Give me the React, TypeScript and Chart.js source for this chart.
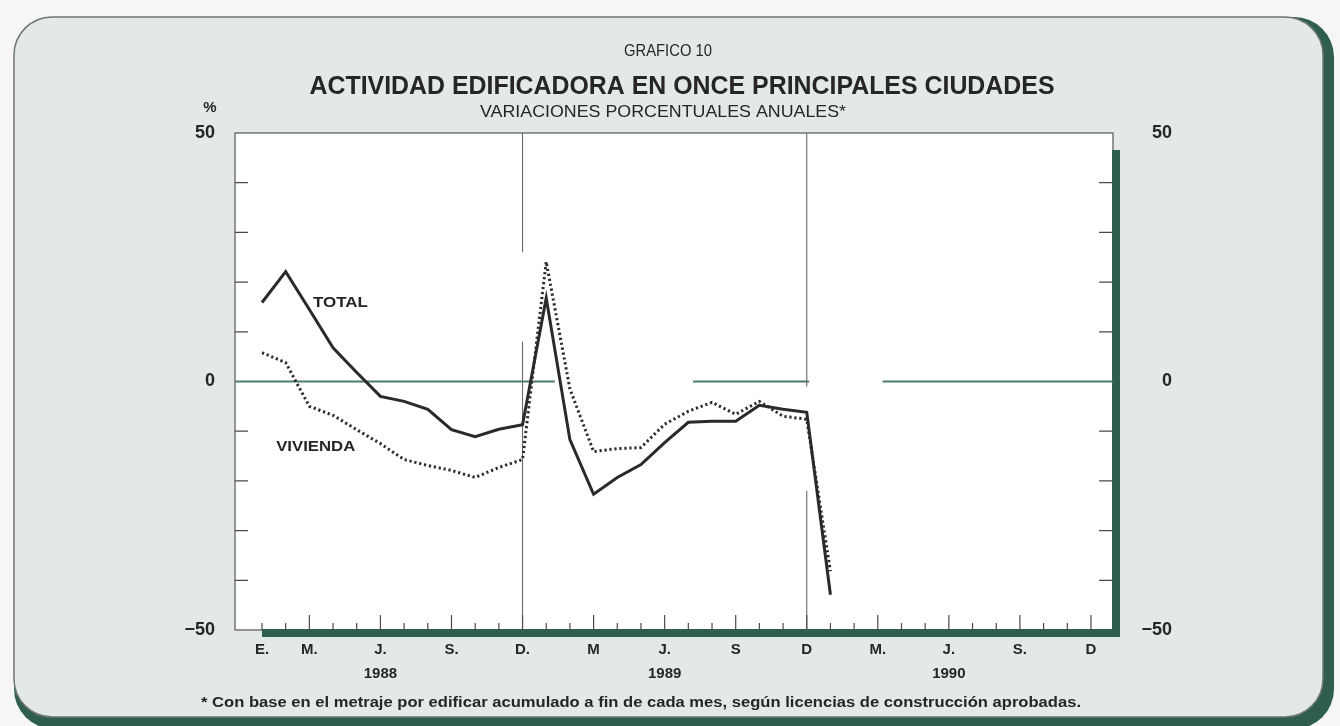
import React, { useEffect, useRef } from 'react';
import { Chart, registerables } from 'chart.js';

Chart.register(...registerables);

// ---------- DATA ----------
// months index 0 = Jan 1988 ... 35 = Dec 1990
const MONTH_TICK_LABELS: (string | string[])[] = [
  'E.', '', 'M.', '', '', ['J.', '1988'], '', '', 'S.', '', '', 'D.',
  '', '', 'M', '', '', ['J.', '1989'], '', '', 'S', '', '', 'D',
  '', '', 'M.', '', '', ['J.', '1990'], '', '', 'S.', '', '', 'D',
];
// observations: Jan 1988 ... Jan 1990 (25 months)
const TOTAL_VALUES = [
  15.9, 22.1, 14.5, 6.8, 1.8, -3.0, -4.0, -5.6, -9.7, -11.1, -9.6, -8.7,
  16.8, -11.7, -22.7, -19.3, -16.7, -12.3, -8.2, -8.0, -8.0, -4.8, -5.6, -6.2,
  -42.9,
];
const VIVIENDA_VALUES = [
  5.8, 3.8, -5.0, -6.8, -9.7, -12.5, -15.7, -16.9, -17.9, -19.3, -17.3, -15.7,
  24.1, -1.5, -14.1, -13.5, -13.3, -8.6, -6.0, -4.2, -6.6, -4.0, -7.0, -7.6,
  -38.2,
];
const Y_LABEL_VALUES = [-50, 0, 50];
const Y_MINOR_TICKS = [-40, -30, -20, -10, 10, 20, 30, 40];

// ---------- STYLE ----------
const FONT = '"Liberation Sans", Arial, Helvetica, sans-serif';
const INK = '#262626';
const PANEL = '#e3eae6';
const DARK = '#2f5d50';
const ZERO_COLOR = '#4e7c6f';
const X_MIN = -1.14;
const X_MAX = 35.93;
// zero line drawn in pieces (gaps as in the original), in month units
const ZERO_SEGMENTS = [[X_MIN, 12.36], [18.2, 23.1], [26.2, X_MAX]];
// vertical year separators (month index, [from value, to value] pieces)
const YEAR_RULES: { x: number; pieces: number[][] }[] = [
  { x: 11, pieces: [[50, 26], [8, -50]] },
  { x: 23, pieces: [[50, -1], [-22, -50]] },
];

function roundRectPath(ctx: CanvasRenderingContext2D, x: number, y: number, w: number, h: number, r: number) {
  ctx.beginPath();
  ctx.moveTo(x + r, y);
  ctx.lineTo(x + w - r, y);
  ctx.arcTo(x + w, y, x + w, y + r, r);
  ctx.lineTo(x + w, y + h - r);
  ctx.arcTo(x + w, y + h, x + w - r, y + h, r);
  ctx.lineTo(x + r, y + h);
  ctx.arcTo(x, y + h, x, y + h - r, r);
  ctx.lineTo(x, y + r);
  ctx.arcTo(x, y, x + r, y, r);
  ctx.closePath();
}

function fitText(
  ctx: CanvasRenderingContext2D, text: string, x: number, y: number,
  font: string, width: number | null, align: CanvasTextAlign = 'center'
) {
  ctx.save();
  ctx.font = font;
  const w = ctx.measureText(text).width;
  const s = width ? width / w : 1;
  ctx.translate(x, y);
  ctx.scale(s, 1);
  ctx.textAlign = align;
  ctx.textBaseline = 'middle';
  ctx.fillStyle = INK;
  ctx.fillText(text, 0, 0);
  ctx.restore();
}

const fmtY = (v: number) => (v < 0 ? '\u2212' + Math.abs(v) : String(v));

const decorPlugin = {
  id: 'decor',
  beforeDraw(chart: any) {
    const { ctx, chartArea: a } = chart;
    ctx.save();
    ctx.fillStyle = '#f6f7f5';
    ctx.fillRect(0, 0, chart.width, chart.height);
    // panel with thick dark right/bottom edge
    roundRectPath(ctx, 14, 17, 1320, 712, 40);
    ctx.fillStyle = DARK;
    ctx.fill();
    roundRectPath(ctx, 14, 17, 1309, 700, 38);
    ctx.fillStyle = PANEL;
    ctx.fill();
    ctx.strokeStyle = '#6f7774';
    ctx.lineWidth = 1.5;
    ctx.stroke();
    // plot area
    ctx.fillStyle = '#ffffff';
    ctx.fillRect(a.left, a.top, a.right - a.left, a.bottom - a.top);
    ctx.strokeStyle = '#555';
    ctx.lineWidth = 1.2;
    ctx.strokeRect(a.left, a.top, a.right - a.left, a.bottom - a.top);
    // drop shadow bars
    ctx.fillStyle = DARK;
    ctx.fillRect(a.left + 27, a.bottom - 1, a.right + 7 - (a.left + 27), 8);
    ctx.fillRect(a.right - 1, a.top + 17, 8, a.bottom + 7 - (a.top + 17));
    ctx.restore();
  },
  beforeDatasetsDraw(chart: any) {
    const { ctx, chartArea: a, scales } = chart;
    const xs = scales.x;
    const ys = scales.y;
    ctx.save();
    // zero line
    ctx.strokeStyle = ZERO_COLOR;
    ctx.lineWidth = 2.2;
    const y0 = ys.getPixelForValue(0);
    ZERO_SEGMENTS.forEach(([s, e]) => {
      ctx.beginPath();
      ctx.moveTo(xs.getPixelForValue(s), y0);
      ctx.lineTo(xs.getPixelForValue(e), y0);
      ctx.stroke();
    });
    // year separators
    ctx.strokeStyle = '#6a6a6a';
    ctx.lineWidth = 1.1;
    YEAR_RULES.forEach((r) => {
      const px = xs.getPixelForValue(r.x);
      r.pieces.forEach(([f, t]) => {
        ctx.beginPath();
        ctx.moveTo(px, ys.getPixelForValue(f));
        ctx.lineTo(px, ys.getPixelForValue(t));
        ctx.stroke();
      });
    });
    // inward tick marks
    ctx.strokeStyle = '#4a4a4a';
    ctx.lineWidth = 1.2;
    Y_MINOR_TICKS.forEach((v) => {
      const py = ys.getPixelForValue(v);
      ctx.beginPath();
      ctx.moveTo(a.left, py);
      ctx.lineTo(a.left + 13, py);
      ctx.moveTo(a.right, py);
      ctx.lineTo(a.right - 14, py);
      ctx.stroke();
    });
    MONTH_TICK_LABELS.forEach((_, i) => {
      const px = xs.getPixelForValue(i);
      const len = i % 3 === 2 ? 15 : 7;
      ctx.beginPath();
      ctx.moveTo(px, a.bottom);
      ctx.lineTo(px, a.bottom - len);
      ctx.stroke();
    });
    ctx.restore();
  },
  afterDraw(chart: any) {
    const { ctx, scales } = chart;
    const xs = scales.x;
    const ys = scales.y;
    fitText(ctx, 'GRAFICO 10', 668, 52, `16px ${FONT}`, 88);
    fitText(ctx, 'ACTIVIDAD EDIFICADORA EN ONCE PRINCIPALES CIUDADES', 682, 87, `bold 26px ${FONT}`, 745);
    fitText(ctx, 'VARIACIONES PORCENTUALES ANUALES*', 663, 112, `17px ${FONT}`, 366);
    fitText(ctx, '%', 210, 108, `bold 15px ${FONT}`, null);
    fitText(ctx, 'TOTAL', xs.getPixelForValue(2.15), ys.getPixelForValue(15.9), `bold 15px ${FONT}`, 55, 'left');
    fitText(ctx, 'VIVIENDA', xs.getPixelForValue(0.6), ys.getPixelForValue(-13.1), `bold 15px ${FONT}`, 79, 'left');
    fitText(
      ctx,
      '* Con base en el metraje por edificar acumulado a fin de cada mes, según licencias de construcción aprobadas.',
      641, 703, `bold 15px ${FONT}`, 880
    );
  },
};

export default function App() {
  const ref = useRef<HTMLCanvasElement>(null);
  useEffect(() => {
    document.body.style.margin = '0';
    const canvas = ref.current;
    if (!canvas) return;
    const tickFontY = { family: FONT, size: 18, weight: 'bold' as const };
    const chart = new Chart(canvas, {
      type: 'line',
      data: {
        datasets: [
          {
            label: 'TOTAL',
            data: TOTAL_VALUES.map((y, i) => ({ x: i, y })),
            borderColor: '#2a2a2a',
            borderWidth: 3,
            pointRadius: 0,
            tension: 0,
            fill: false,
          },
          {
            label: 'VIVIENDA',
            data: VIVIENDA_VALUES.map((y, i) => ({ x: i, y })),
            borderColor: '#2a2a2a',
            borderWidth: 3,
            borderDash: [2.2, 2.8],
            pointRadius: 0,
            tension: 0,
            fill: false,
          },
        ],
      },
      options: {
        responsive: false,
        animation: false,
        events: [],
        layout: { padding: { top: 133, right: 168, bottom: 0, left: 0 } },
        plugins: {
          legend: { display: false },
          title: { display: false },
          tooltip: { enabled: false },
        },
        scales: {
          x: {
            type: 'linear',
            min: X_MIN,
            max: X_MAX,
            grid: { display: false, drawTicks: false },
            border: { display: false },
            afterBuildTicks: (s: any) => {
              s.ticks = MONTH_TICK_LABELS.map((_, i) => ({ value: i }));
            },
            afterFit: (s: any) => {
              s.height = 96;
            },
            ticks: {
              autoSkip: false,
              maxRotation: 0,
              minRotation: 0,
              padding: 8,
              color: INK,
              font: { family: FONT, size: 15, weight: 'bold', lineHeight: 1.6 },
              callback: (v: any) => MONTH_TICK_LABELS[Math.round(Number(v))] ?? '',
            },
          },
          y: {
            type: 'linear',
            position: 'left',
            min: -50,
            max: 50,
            grid: { display: false, drawTicks: false },
            border: { display: false },
            afterBuildTicks: (s: any) => {
              s.ticks = Y_LABEL_VALUES.map((v) => ({ value: v }));
            },
            afterFit: (s: any) => {
              s.width = 235;
            },
            ticks: {
              padding: 20,
              crossAlign: 'near',
              color: INK,
              font: tickFontY,
              callback: (v: any) => fmtY(Number(v)),
            },
          },
          y2: {
            type: 'linear',
            position: 'right',
            min: -50,
            max: 50,
            grid: { display: false, drawTicks: false },
            border: { display: false },
            afterBuildTicks: (s: any) => {
              s.ticks = Y_LABEL_VALUES.map((v) => ({ value: v }));
            },
            afterFit: (s: any) => {
              s.width = 59;
            },
            ticks: {
              padding: 20,
              crossAlign: 'far',
              color: INK,
              font: tickFontY,
              callback: (v: any) => fmtY(Number(v)),
            },
          },
        },
      } as any,
      plugins: [decorPlugin],
    });
    return () => chart.destroy();
  }, []);
  return (
    <div style={{ width: 1340, height: 726 }}>
      <canvas ref={ref} width={1340} height={726} style={{ display: 'block' }} />
    </div>
  );
}
